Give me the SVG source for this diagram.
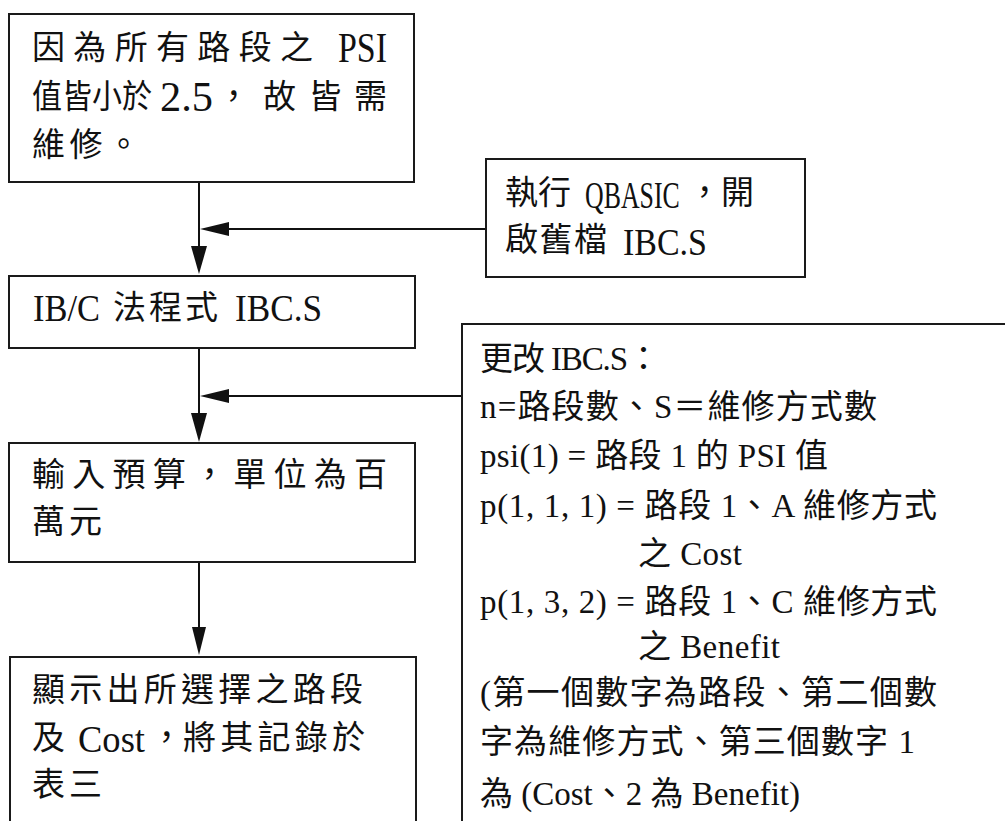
<svg xmlns="http://www.w3.org/2000/svg" width="1005" height="821" viewBox="0 0 1005 821">
<defs>
<style>
.box{fill:#fff;stroke:#1a1a1a;stroke-width:2}
.ln{stroke:#111;stroke-width:2;fill:none}
.ah{fill:#111;stroke:none}
.t{font-family:"Liberation Serif","Noto Sans CJK TC",serif;font-size:33px;fill:#111}
.m{font-family:"Liberation Serif","Noto Sans CJK TC",serif;font-size:33px;fill:#111}
.L{font-family:"Liberation Serif",serif;font-size:38px;fill:#111}
.XL{font-family:"Liberation Serif",serif;font-size:42px;fill:#111}
</style>
</defs>
<rect width="1005" height="821" fill="#fff"/>
<g id="connectors">
<line class="ln" x1="199" y1="182" x2="199" y2="248"/>
<polygon class="ah" points="191,246 207,246 199,274"/>
<line class="ln" x1="487" y1="229" x2="227" y2="229"/>
<polygon class="ah" points="200,229 229,222 229,236"/>
<line class="ln" x1="199" y1="348" x2="199" y2="415"/>
<polygon class="ah" points="191,413 207,413 199,442"/>
<line class="ln" x1="462" y1="396" x2="227" y2="396"/>
<polygon class="ah" points="200,396 229,389 229,403"/>
<line class="ln" x1="199" y1="562" x2="199" y2="629"/>
<polygon class="ah" points="192,627 206,627 199,655"/>
</g>
<g id="n1">
<rect class="box" x="9" y="14" width="405" height="168"/>
<text class="m" x="32" y="59" textLength="281" lengthAdjust="spacing">因為所有路段之</text>
<text class="XL" x="338" y="62" textLength="49" lengthAdjust="spacingAndGlyphs">PSI</text>
<text class="m" x="32" y="108" textLength="120" lengthAdjust="spacingAndGlyphs">值皆小於</text>
<text class="XL" x="160" y="111" textLength="53" lengthAdjust="spacingAndGlyphs">2.5</text>
<text class="m" x="217" y="108">，</text>
<text class="m" x="263" y="108" textLength="124" lengthAdjust="spacing">故皆需</text>
<text class="m" x="32" y="156" textLength="108" lengthAdjust="spacing">維修。</text>
</g>
<g id="n2">
<rect class="box" x="486" y="159" width="319" height="118"/>
<text class="m" x="505" y="204" textLength="66" lengthAdjust="spacing">執行</text>
<text class="L" transform="translate(585,208) scale(0.68,1)" x="0" y="0">QBASIC</text>
<text class="m" x="688" y="204" textLength="66" lengthAdjust="spacing">，開</text>
<text class="m" x="505" y="251" textLength="102" lengthAdjust="spacing">啟舊檔</text>
<text class="L" x="623" y="255" textLength="84" lengthAdjust="spacingAndGlyphs">IBC.S</text>
</g>
<g id="n3">
<rect class="box" x="9" y="276" width="406" height="72"/>
<text class="L" x="33" y="321" textLength="67" lengthAdjust="spacingAndGlyphs">IB/C</text>
<text class="m" x="113" y="319" textLength="105" lengthAdjust="spacing">法程式</text>
<text class="L" x="235" y="321" textLength="87" lengthAdjust="spacingAndGlyphs">IBC.S</text>
</g>
<g id="n4">
<rect class="box" x="9" y="443" width="406" height="119"/>
<text class="m" x="32" y="486" textLength="355" lengthAdjust="spacing">輸入預算，單位為百</text>
<text class="m" x="32" y="533" textLength="70" lengthAdjust="spacing">萬元</text>
</g>
<g id="n5">
<rect class="box" x="10" y="657" width="406" height="180"/>
<text class="m" x="32" y="701" textLength="331" lengthAdjust="spacing">顯示出所選擇之路段</text>
<text class="m" x="32" y="749">及</text>
<text class="L" x="78" y="752" textLength="67" lengthAdjust="spacingAndGlyphs">Cost</text>
<text class="m" x="150" y="749">，</text>
<text class="m" x="183" y="749" textLength="182" lengthAdjust="spacing">將其記錄於</text>
<text class="m" x="32" y="796" textLength="70" lengthAdjust="spacing">表三</text>
</g>
<g id="n6">
<rect class="box" x="462" y="324" width="560" height="520"/>
<text class="t" x="480" y="370" textLength="180" lengthAdjust="spacing">更改 IBC.S：</text>
<text class="t" x="480" y="418" textLength="397" lengthAdjust="spacing">n=路段數、S＝維修方式數</text>
<text class="t" x="480" y="467" textLength="348" lengthAdjust="spacing">psi(1) = 路段 1 的 PSI 值</text>
<text class="t" x="480" y="517" textLength="457" lengthAdjust="spacing">p(1, 1, 1) = 路段 1、A 維修方式</text>
<text class="t" x="638" y="565" textLength="104" lengthAdjust="spacing">之 Cost</text>
<text class="t" x="480" y="613" textLength="457" lengthAdjust="spacing">p(1, 3, 2) = 路段 1、C 維修方式</text>
<text class="t" x="638" y="658" textLength="142" lengthAdjust="spacing">之 Benefit</text>
<text class="t" x="480" y="704" textLength="457" lengthAdjust="spacing">(第一個數字為路段、第二個數</text>
<text class="t" x="480" y="753" textLength="435" lengthAdjust="spacing">字為維修方式、第三個數字 1</text>
<text class="t" x="480" y="805" textLength="320" lengthAdjust="spacing">為 (Cost、2 為 Benefit)</text>
</g>
</svg>
